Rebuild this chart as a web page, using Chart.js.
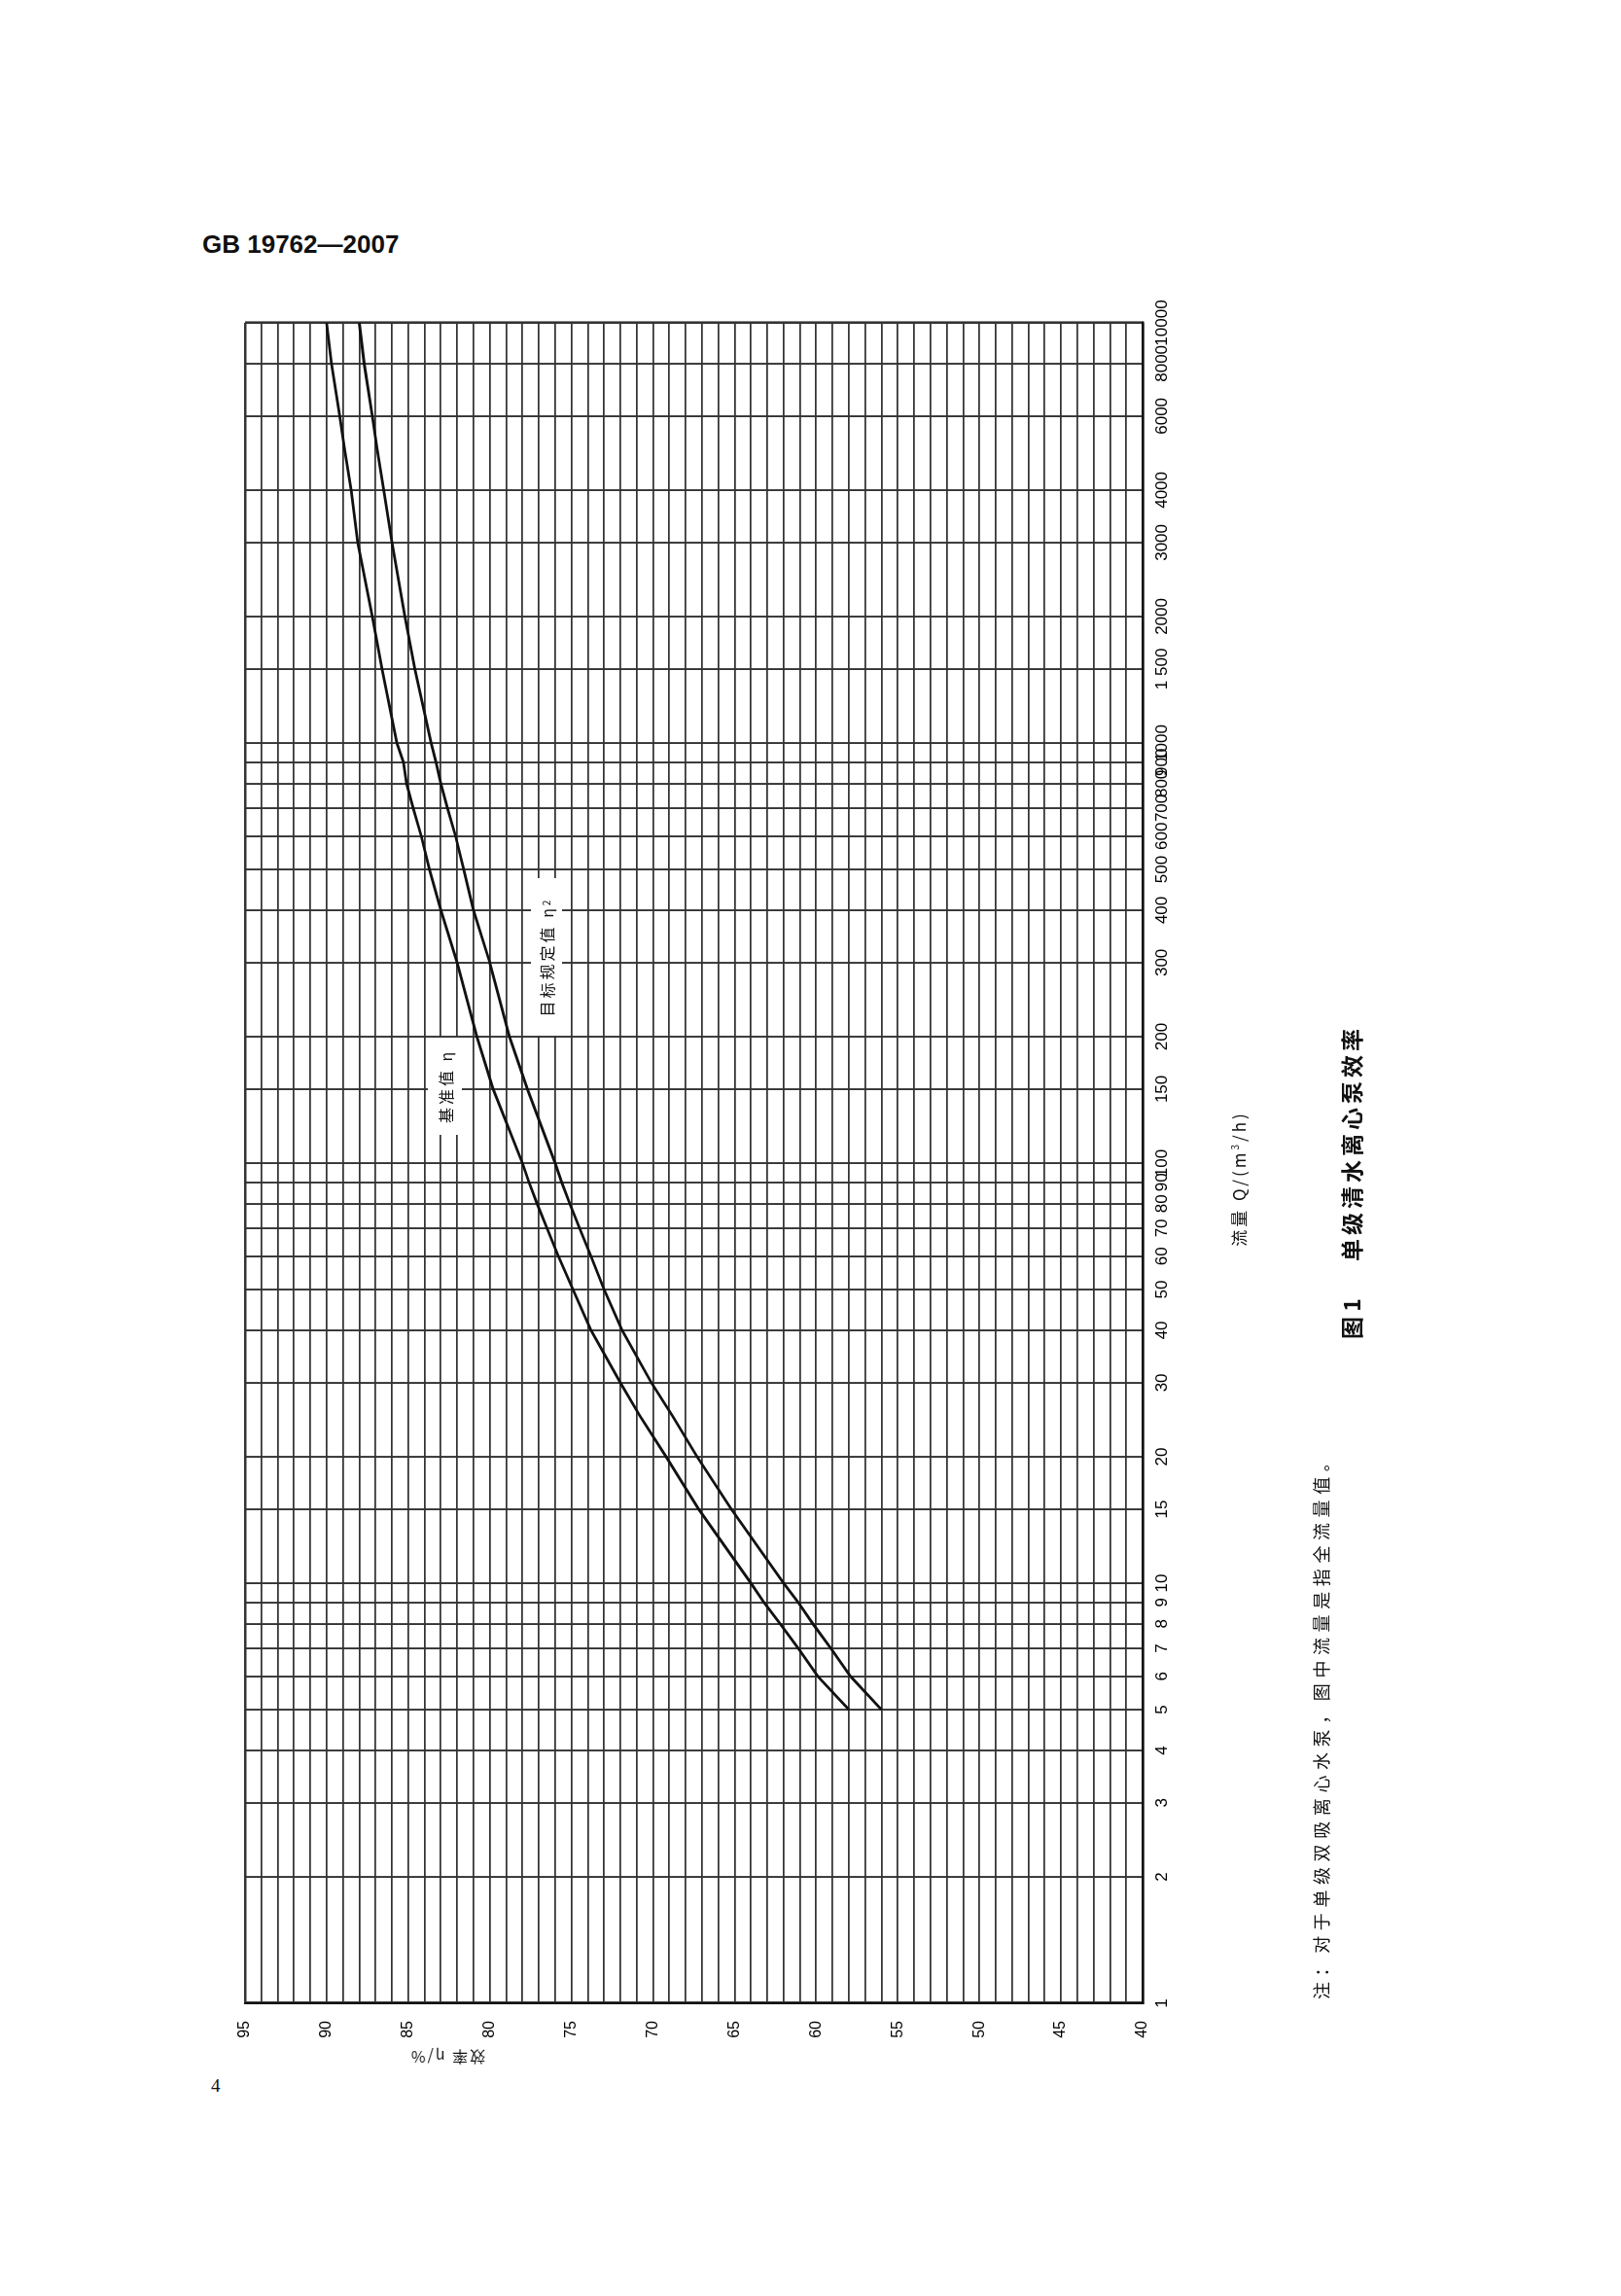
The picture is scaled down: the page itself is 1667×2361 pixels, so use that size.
<!DOCTYPE html>
<html lang="zh">
<head>
<meta charset="utf-8">
<title>单级清水离心泵效率</title>
<script src="https://cdn.jsdelivr.net/npm/chart.js@4.4.1/dist/chart.umd.min.js"></script>
<style>
  html, body { margin: 0; padding: 0; background: #fff; }
  body { width: 1667px; height: 2361px; position: relative; overflow: hidden; color: #111; }
  #std { position: absolute; left: 208px; top: 236px; font: bold 26px "Liberation Sans", sans-serif; white-space: nowrap; }
  #pageNo { position: absolute; left: 217px; top: 2134px; font: 19px "Liberation Serif", serif; }
  /* the figure is printed turned a quarter turn on the page */
  #sheet { position: absolute; left: 0; top: 2361px; width: 2361px; height: 1667px;
           transform-origin: 0 0; transform: rotate(-90deg); }
  #sheet canvas { position: absolute; left: 0; top: 0; }
  .txt { position: absolute; white-space: nowrap; line-height: 1; color: #111;
         font-family: "Noto Sans CJK SC", sans-serif; transform: translate(-50%, -50%); }
  .tag { position: absolute; background: #fff; display: flex; align-items: center; justify-content: center;
         white-space: nowrap; line-height: 1; font-family: "Noto Sans CJK SC", sans-serif; color: #111; }
</style>
</head>
<body>
<div id="std">GB 19762—2007</div>
<div id="pageNo">4</div>

<div id="sheet">
  <canvas id="chart" width="2361" height="1667"></canvas>
  <div class="tag" style="left:1194px; top:440px; width:100px; height:35px; font-size:16px; letter-spacing:3px;">基准值 η</div>
  <div class="tag" style="left:1296px; top:546px; width:162px; height:32px; font-size:16px; letter-spacing:3px;">目标规定值 η<sub style="font-size:10px;">2</sub></div>
  <div class="txt" style="left:1149px; top:1273px; font-size:17px; letter-spacing:3px;">流量 Q/(m<sup style="font-size:10px;">3</sup>/h)</div>
  <div class="txt" style="left:245px; top:460px; font-size:16px; letter-spacing:2px; transform: translate(-50%, -50%) rotate(-90deg);">效率 η/%</div>
  <div class="txt" style="left:305px; top:1358px; font-size:18px; letter-spacing:5.6px; transform: translate(0, -50%);">注：对于单级双吸离心水泵，图中流量是指全流量值。</div>
  <div class="txt" style="left:984px; top:1389px; font-size:23px; font-weight:bold; transform: translate(0, -50%);">图 1</div>
  <div class="txt" style="left:1064px; top:1389px; font-size:23px; font-weight:bold; letter-spacing:4px; transform: translate(0, -50%);">单级清水离心泵效率</div>
</div>

<script>
// Flow rate Q (m³/h) at which both efficiency curves are tabulated
const flowQ = [5, 6, 7, 8, 9, 10, 15, 20, 25, 30, 40, 50, 60, 70, 80, 90, 100, 150, 200,
               300, 400, 500, 600, 700, 800, 900, 1000, 1500, 2000, 3000, 4000, 5000, 6000, 8000, 10000];

// Reference efficiency η (%)
const etaBase = [58.0, 59.9, 61.1, 62.2, 63.2, 64.0, 67.2, 69.2, 70.8, 72.0, 73.8, 74.9, 75.8, 76.5, 77.1, 77.6, 78.0, 79.8, 80.8,
                 82.0, 83.0, 83.7, 84.2, 84.7, 85.1, 85.3, 85.7, 86.6, 87.2, 88.1, 88.5, 88.9, 89.2, 89.7, 90.0];

// Target efficiency η₂ (%)
const etaTarget = [56.0, 57.9, 59.1, 60.2, 61.1, 62.0, 65.2, 67.3, 68.8, 70.1, 71.9, 73.0, 73.8, 74.5, 75.1, 75.6, 76.0, 77.7, 78.8,
                   80.0, 81.0, 81.6, 82.1, 82.6, 83.0, 83.3, 83.6, 84.6, 85.2, 86.0, 86.5, 86.9, 87.2, 87.7, 88.0];

// Ruling of the logarithmic flow axis and its printed labels
const flowTicks = [1, 2, 3, 4, 5, 6, 7, 8, 9, 10, 15, 20, 30, 40, 50, 60, 70, 80, 90, 100, 150, 200,
                   300, 400, 500, 600, 700, 800, 900, 1000, 1500, 2000, 3000, 4000, 6000, 8000, 10000];
const flowTickLabels = ['1', '2', '3', '4', '5', '6', '7', '8', '9', '10', '15', '20', '30', '40', '50', '60', '70', '80', '90', '100', '150', '200',
                        '300', '400', '500', '600', '700', '800', '900', '1000', '1 500', '2000', '3000', '4000', '6000', '8000', '10000'];

// Efficiency axis: ruled every 1 %, labelled every 5 %
const etaMin = 40, etaMax = 95, etaStep = 1;
const etaTickLabels = ['40', '45', '50', '55', '60', '65', '70', '75', '80', '85', '90', '95'];

const ink = '#111';
const rule = '#333';

function points(eta) {
  return flowQ.map((q, i) => ({ x: q, y: eta[i] }));
}

new Chart(document.getElementById('chart').getContext('2d'), {
  type: 'line',
  data: {
    datasets: [
      { label: '基准值 η', data: points(etaBase), borderColor: ink, borderWidth: 2.8,
        pointRadius: 0, tension: 0, fill: false },
      { label: '目标规定值 η₂', data: points(etaTarget), borderColor: ink, borderWidth: 2.8,
        pointRadius: 0, tension: 0, fill: false }
    ]
  },
  options: {
    responsive: false,
    animation: false,
    devicePixelRatio: 1,
    layout: { padding: { left: 201, top: 252, right: 332, bottom: 392 } },
    plugins: { legend: { display: false }, tooltip: { enabled: false } },
    scales: {
      x: {
        type: 'logarithmic',
        position: 'bottom',
        min: 1,
        max: 10000,
        afterBuildTicks: (s) => { s.ticks = flowTicks.map(v => ({ value: v })); },
        afterFit: (s) => { s.height = 100; },
        ticks: {
          autoSkip: false, maxRotation: 0, minRotation: 0, padding: 10, color: '#000',
          font: { family: 'Liberation Sans', size: 17 },
          callback: (v, i) => flowTickLabels[i]
        },
        grid: {
          drawTicks: false, color: rule,
          lineWidth: (c) => (c.tick && (c.tick.value === 1 || c.tick.value === 10000)) ? 2.6 : 1.9
        },
        border: { display: true, color: ink, width: 2.6 }
      },
      y: {
        type: 'linear',
        position: 'left',
        min: etaMin,
        max: etaMax,
        afterBuildTicks: (s) => {
          const t = [];
          for (let v = etaMin; v <= etaMax; v += etaStep) t.push({ value: v });
          s.ticks = t;
        },
        afterFit: (s) => { s.width = 100; },
        ticks: {
          autoSkip: false, padding: 18, color: '#000',
          font: { family: 'Liberation Sans', size: 16 },
          callback: (v) => {
            const k = etaTickLabels.indexOf(String(v));
            return k >= 0 ? etaTickLabels[k] : '';
          }
        },
        grid: {
          drawTicks: false, color: rule,
          lineWidth: (c) => (c.tick && (c.tick.value === etaMin || c.tick.value === etaMax)) ? 2.6 : 1.8
        },
        border: { display: true, color: ink, width: 2.6 }
      }
    }
  }
});
</script>
</body>
</html>
